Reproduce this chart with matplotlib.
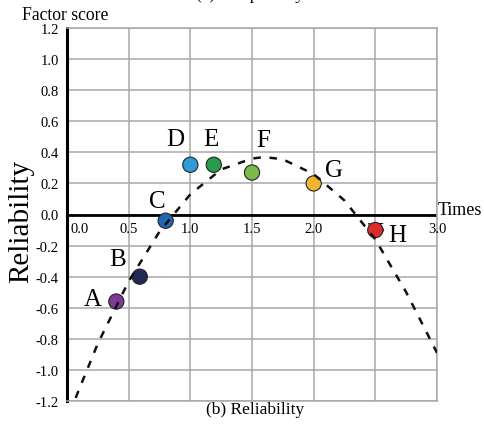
import matplotlib
matplotlib.use("Agg")
import matplotlib.pyplot as plt
import numpy as np

plt.rcParams['font.family'] = ['Liberation Serif', 'DejaVu Serif']
plt.rcParams['axes.unicode_minus'] = False

# Data
labels = ['A', 'B', 'C', 'D', 'E', 'F', 'G', 'H']
times = [0.40, 0.59, 0.80, 1.00, 1.19, 1.50, 2.00, 2.50]
reliability = [-0.56, -0.40, -0.04, 0.32, 0.32, 0.27, 0.20, -0.10]
colors = ['#7b3a98', '#1f2b55', '#2468b4', '#2f9bd8', '#2a9a4c', '#7bbb4c', '#f0b432', '#e02b2b']

# Dashed trend curve
curve_x = [0.07, 0.25, 0.50, 0.75, 1.00, 1.25, 1.50, 1.60, 1.75, 2.00, 2.25, 2.50, 2.75, 3.00]
curve_y = [-1.18, -0.83, -0.43, -0.11, 0.13, 0.29, 0.36, 0.37, 0.355, 0.26, 0.09, -0.16, -0.50, -0.89]

x_ticks = [0.0, 0.5, 1.0, 1.5, 2.0, 2.5, 3.0]
y_ticks = [-1.2, -1.0, -0.8, -0.6, -0.4, -0.2, 0.0, 0.2, 0.4, 0.6, 0.8, 1.0, 1.2]

W, H = 484, 427
fig = plt.figure(figsize=(W / 100, H / 100), dpi=100)
ax = fig.add_axes([67 / W, 1 - 402 / H, (437 - 67) / W, (402 - 29) / H])

ax.set_xlim(0, 3)
ax.set_ylim(-1.2, 1.2)
grid_c = '#a8a8a8'
ax.set_xticks(x_ticks)
ax.set_yticks(y_ticks)
ax.grid(True, color=grid_c, linewidth=1.1)
ax.set_axisbelow(True)
ax.tick_params(axis='x', length=0, labelbottom=False)
ax.tick_params(axis='y', length=0, pad=6, labelsize=10.5)
ax.set_yticklabels([f'{v:.1f}' for v in y_ticks])

for s in ['top', 'right', 'bottom']:
    ax.spines[s].set_color(grid_c)
    ax.spines[s].set_linewidth(1.1)
ax.spines['left'].set_color('black')
ax.spines['left'].set_linewidth(2.2)

ax.axhline(0, color='black', linewidth=2.0, zorder=2)

for v in x_ticks:
    if v == 0:
        ax.text(0.03, -0.09, f'{v:.1f}', ha='left', va='center', fontsize=10.5)
    else:
        ax.text(v, -0.09, f'{v:.1f}', ha='center', va='center', fontsize=10.5)

ax.scatter(times, reliability, s=120, c=colors, edgecolors='#222222', linewidths=0.8, zorder=3)
ax.plot(curve_x, curve_y, linestyle=(0, (3, 3.5)), color='#111111', linewidth=1.8, zorder=4)

# point labels (offsets in points)
offsets = {'A': (-17, 1.5), 'B': (-16, 12.5), 'C': (-6, 14.5), 'D': (-11, 18.5), 'E': (-2, 18.5),
           'F': (8, 23.5), 'G': (15, 9.5), 'H': (16, -3.5)}
for lab, x, y in zip(labels, times, reliability):
    dx, dy = offsets[lab]
    ax.annotate(lab, (x, y), xytext=(dx, dy), textcoords='offset points',
                ha='center', va='center', fontsize=18)

fig.text(22 / W, 1 - 15 / H, 'Factor score', ha='left', va='center', fontsize=12.7)
fig.text(438 / W, 1 - 211 / H, 'Times', ha='left', va='center', fontsize=13)
fig.text(21 / W, 1 - 221 / H, 'Reliability', ha='center', va='center', rotation=90, fontsize=21)
fig.text(255 / W, 1 - 410 / H, '(b) Reliability', ha='center', va='center', fontsize=12.5)
fig.text(250 / W, 1 + 1 / H, '(a) Temporality', ha='center', va='baseline', fontsize=12.5)

fig.savefig('out.png', dpi=100)
